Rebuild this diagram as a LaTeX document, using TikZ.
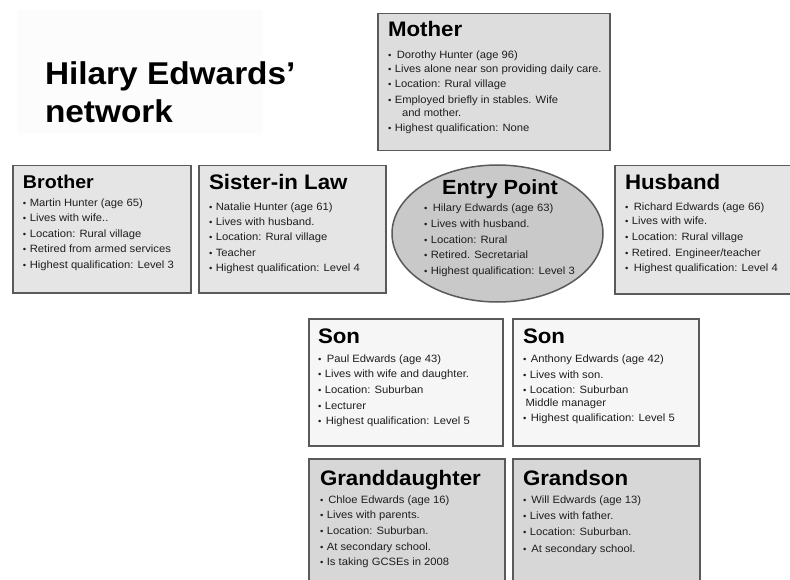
\documentclass[tikz,border=0pt]{standalone}
\usepackage{fontspec}
\usepackage{graphicx}
\setmainfont[FakeStretch=1.06]{Liberation Sans}
\usetikzlibrary{shapes.geometric}
\definecolor{bordercol}{HTML}{5A5A5A}
\definecolor{motherfill}{HTML}{DDDDDD}
\definecolor{sidefill}{HTML}{E5E5E5}
\definecolor{entryfill}{HTML}{C9C9C9}
\definecolor{sonfill}{HTML}{F6F6F6}
\definecolor{grandfill}{HTML}{D7D7D7}
\definecolor{titlebg}{HTML}{FCFCFC}
\definecolor{bodytxt}{HTML}{1E1E1E}
\newcommand\bul{\makebox[6.8pt][l]{\scalebox{0.85}{•}}}
\newcommand\boxhead[2][21]{\hbox{\fontsize{#1}{#1}\selectfont\bfseries #2}}
\newcommand\bitem[2]{\baselineskip=#1pt\relax\hbox{\fontsize{10.6}{12}\selectfont\color{bodytxt}\bul#2}}
\newcommand\bcont[3]{\baselineskip=#1pt\relax\hbox{\fontsize{10.6}{12}\selectfont\color{bodytxt}\hspace*{#2pt}#3}}
\newcommand\boxlines[1]{\vtop{\lineskiplimit=-\maxdimen\lineskip=0pt #1}}
\tikzset{
  box/.style={draw=bordercol, line width=1.5pt, rectangle, inner sep=0pt, anchor=north west},
  txt/.style={inner sep=0pt, outer sep=0pt, anchor=base west, text=black}
}
\begin{document}
\begin{tikzpicture}[x=1pt, y=-1pt]
\useasboundingbox (0,0) rectangle (790,580);
\fill[white] (0,0) rectangle (790,580);
% title
\node[rectangle, fill=titlebg, inner sep=0pt, minimum width=246, minimum height=123, anchor=north west] (titlebox) at (17,10) {};
\node[txt] (title) at (45,85) {\boxlines{\fontsize{31.5}{31.5}\selectfont\bfseries
  \hbox{Hilary Edwards’}\baselineskip=38pt\relax\hbox{network}}};
% boxes
\node[box, fill=motherfill, minimum width=232, minimum height=137] (mother) at (377,13) {};
\node[box, fill=sidefill, minimum width=178, minimum height=127] (brother) at (12,165) {};
\node[box, fill=sidefill, minimum width=187, minimum height=127] (sister) at (198,165) {};
\node[box, fill=sidefill, minimum width=190, minimum height=128] (husband) at (614,165) {};
\node[ellipse, draw=bordercol, line width=1.5pt, fill=entryfill, inner sep=0pt, minimum width=211, minimum height=137] (entry) at (497.5,233.5) {};
\node[box, fill=sonfill, minimum width=194, minimum height=127] (son1) at (308,318) {};
\node[box, fill=sonfill, minimum width=186, minimum height=127] (son2) at (512,318) {};
\node[box, fill=grandfill, minimum width=196, minimum height=140] (gdaughter) at (308,458) {};
\node[box, fill=grandfill, minimum width=187, minimum height=140] (gson) at (512,458) {};
% texts
\node[txt] (mother-t) at (388,37) {\boxlines{\boxhead{Mother}
  \bitem{21.5}{\kern2pt Dorothy Hunter (age 96)}
  \bitem{14.5}{Lives alone near son providing daily care.}
  \bitem{15}{Location: Rural village}
  \bitem{15.5}{Employed briefly in stables. Wife}
  \bcont{13}{14}{and mother.}
  \bitem{15}{Highest qualification: None}}};
\node[txt] (brother-t) at (23,189) {\boxlines{\boxhead[18.5]{Brother}
  \bitem{17.5}{Martin Hunter (age 65)}
  \bitem{15.5}{Lives with wife..}
  \bitem{15.5}{Location: Rural village}
  \bitem{15.5}{Retired from armed services}
  \bitem{15.5}{Highest qualification: Level 3}}};
\node[txt] (sister-t) at (209,190) {\boxlines{\boxhead{Sister-in Law}
  \bitem{20.5}{Natalie Hunter (age 61)}
  \bitem{15.2}{Lives with husband.}
  \bitem{15.2}{Location: Rural village}
  \bitem{15.5}{Teacher}
  \bitem{15.2}{Highest qualification: Level 4}}};
\node[txt, anchor=base] (entry-h) at (500,195) {\fontsize{20.5}{20.5}\selectfont\bfseries Entry Point};
\node[txt] (entry-t) at (424,211.5) {\boxlines{
  \bitem{0}{\kern2pt Hilary Edwards (age 63)}
  \bitem{15.8}{Lives with husband.}
  \bitem{15.8}{Location: Rural}
  \bitem{15.5}{Retired. Secretarial}
  \bitem{15.8}{Highest qualification: Level 3}}};
\node[txt] (husband-t) at (625,190) {\boxlines{\boxhead{Husband}
  \bitem{20.5}{\kern2pt Richard Edwards (age 66)}
  \bitem{14.5}{Lives with wife.}
  \bitem{15.8}{Location: Rural village}
  \bitem{15.5}{Retired. Engineer/teacher}
  \bitem{15.2}{\kern2pt Highest qualification: Level 4}}};
\node[txt] (son1-t) at (318,343) {\boxlines{\boxhead{Son}
  \bitem{19.5}{\kern2pt Paul Edwards (age 43)}
  \bitem{15.3}{Lives with wife and daughter.}
  \bitem{15.5}{Location: Suburban}
  \bitem{15.8}{Lecturer}
  \bitem{15.3}{\kern1pt Highest qualification: Level 5}}};
\node[txt] (son2-t) at (523,343) {\boxlines{\boxhead{Son}
  \bitem{19.5}{\kern1pt Anthony Edwards (age 42)}
  \bitem{15.5}{Lives with son.}
  \bitem{15.3}{Location: Suburban}
  \bcont{13}{2.5}{Middle manager}
  \bitem{15}{\kern1pt Highest qualification: Level 5}}};
\node[txt] (gdaughter-t) at (320,485) {\boxlines{\boxhead{Granddaughter}
  \bitem{18.5}{\kern1.5pt Chloe Edwards (age 16)}
  \bitem{15.3}{Lives with parents.}
  \bitem{15.8}{Location: Suburban.}
  \bitem{15.8}{At secondary school.}
  \bitem{15.3}{Is taking GCSEs in 2008}}};
\node[txt] (gson-t) at (523,485) {\boxlines{\boxhead{Grandson}
  \bitem{18}{\kern1.5pt Will Edwards (age 13)}
  \bitem{16}{Lives with father.}
  \bitem{16.5}{Location: Suburban.}
  \bitem{16.5}{\kern1.5pt At secondary school.}}};
\end{tikzpicture}
\end{document}
